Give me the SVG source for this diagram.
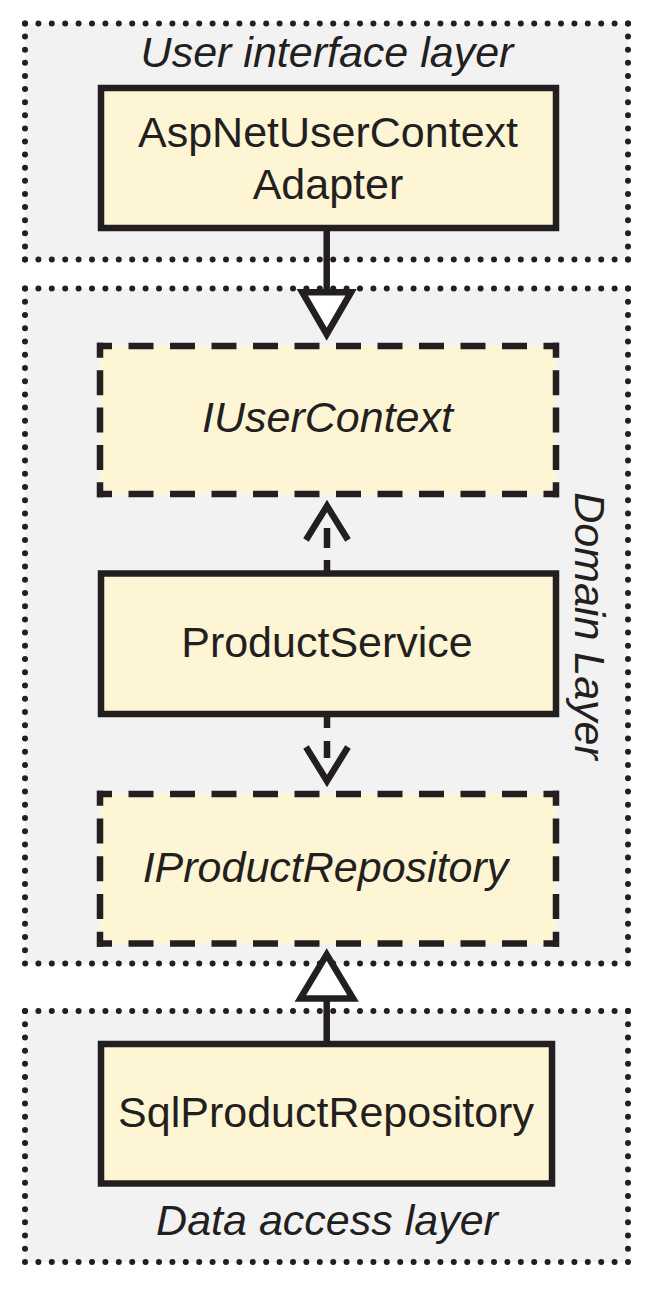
<svg xmlns="http://www.w3.org/2000/svg" width="658" height="1292" viewBox="0 0 658 1292">
<style>
  .layer-bg { fill: #f2f2f2; stroke: none; }
  .dots { fill: none; stroke: #231f20; stroke-width: 6; stroke-linecap: round; stroke-dasharray: 0 1; }
  .node { fill: #fdf5d3; stroke: #231f20; stroke-width: 6.5; }
  .ifill { fill: #fdf5d3; stroke: none; }
  .dash { fill: none; stroke: #231f20; stroke-width: 6.5; stroke-linecap: butt; }
  .lbl { font-family: "Liberation Sans", Arial, Helvetica, sans-serif; font-size: 43px; fill: #231f20; text-anchor: middle; }
  .it { font-style: italic; }
  .conn { fill: none; stroke: #231f20; stroke-width: 6.5; }
  .tri { fill: #ffffff; stroke: #231f20; stroke-width: 6.5; stroke-linejoin: miter; }
</style>

<g id="layer-ui">
  <rect class="layer-bg" x="25" y="23.5" width="603" height="236"/>
  <path class="dots" pathLength="45" d="M25 23.5 H628"/>
  <path class="dots" pathLength="45" d="M25 259.5 H628"/>
  <path class="dots" pathLength="18" d="M25 23.5 V259.5"/>
  <path class="dots" pathLength="18" d="M628 23.5 V259.5"/>
  <text class="lbl it" x="327" y="66.5">User interface layer</text>
</g>

<g id="layer-domain">
  <rect class="layer-bg" x="25" y="288.5" width="603" height="675"/>
  <path class="dots" pathLength="45" d="M25 288.5 H628"/>
  <path class="dots" pathLength="45" d="M25 963.5 H628"/>
  <path class="dots" pathLength="51" d="M25 288.5 V963.5"/>
  <path class="dots" pathLength="51" d="M628 288.5 V963.5"/>
  <text class="lbl it" x="575" y="626" transform="rotate(90 575 626)">Domain Layer</text>
</g>

<g id="layer-data">
  <rect class="layer-bg" x="25" y="1011" width="603" height="251"/>
  <path class="dots" pathLength="45" d="M25 1011 H628"/>
  <path class="dots" pathLength="45" d="M25 1262 H628"/>
  <path class="dots" pathLength="19" d="M25 1011 V1262"/>
  <path class="dots" pathLength="19" d="M628 1011 V1262"/>
  <text class="lbl it" x="327" y="1235">Data access layer</text>
</g>

<g id="node-aspnet">
  <rect class="node" x="101" y="88" width="455" height="140"/>
  <text class="lbl" x="328" y="146.5">AspNetUserContext</text>
  <text class="lbl" x="328" y="198.5">Adapter</text>
</g>

<g id="node-iusercontext">
  <rect class="ifill" x="100" y="346" width="456" height="148"/>
  <path class="dash" d="M97 346 H559 M97 494 H559" stroke-dasharray="25 16.5" stroke-dashoffset="10"/>
  <path class="dash" d="M100 342.75 V497.25" stroke-dasharray="25 12.4" stroke-dashoffset="10"/>
  <path class="dash" d="M556 342.75 V497.25" stroke-dasharray="25 12.4" stroke-dashoffset="10"/>
  <text class="lbl it" x="327.5" y="431.7">IUserContext</text>
</g>

<g id="node-productservice">
  <rect class="node" x="101" y="573.5" width="455" height="140.5"/>
  <text class="lbl" x="327" y="656.7">ProductService</text>
</g>

<g id="node-iproductrepository">
  <rect class="ifill" x="100" y="794" width="456" height="149.5"/>
  <path class="dash" d="M97 794 H559 M97 943.5 H559" stroke-dasharray="25 16.5" stroke-dashoffset="10"/>
  <path class="dash" d="M100 790.75 V946.75" stroke-dasharray="25 12.75" stroke-dashoffset="10"/>
  <path class="dash" d="M556 790.75 V946.75" stroke-dasharray="25 12.75" stroke-dashoffset="10"/>
  <text class="lbl it" x="325.5" y="881.7">IProductRepository</text>
</g>

<g id="node-sqlproductrepository">
  <rect class="node" x="101" y="1044" width="451" height="139.5"/>
  <text class="lbl" x="326" y="1126.7">SqlProductRepository</text>
</g>

<g id="connectors">
  <g id="c-aspnet-iusercontext">
    <path class="conn" d="M326.7 228 V292"/>
    <polygon class="tri" points="302.3,292.2 351.1,292.2 326.7,334.2"/>
  </g>
  <g id="c-productservice-iusercontext">
    <path class="conn" d="M327 572 V560 M327 548 V528"/>
    <polyline class="conn" points="306,540 327,506 348,540"/>
  </g>
  <g id="c-productservice-iproductrepository">
    <path class="conn" d="M327 716 V728 M327 741 V758"/>
    <polyline class="conn" points="306,747 327,781 348,747"/>
  </g>
  <g id="c-sql-iproductrepository">
    <path class="conn" d="M326.7 1044 V998.5"/>
    <polygon class="tri" points="300.3,998.5 353.1,998.5 326.7,954.6"/>
  </g>
</g>
</svg>
